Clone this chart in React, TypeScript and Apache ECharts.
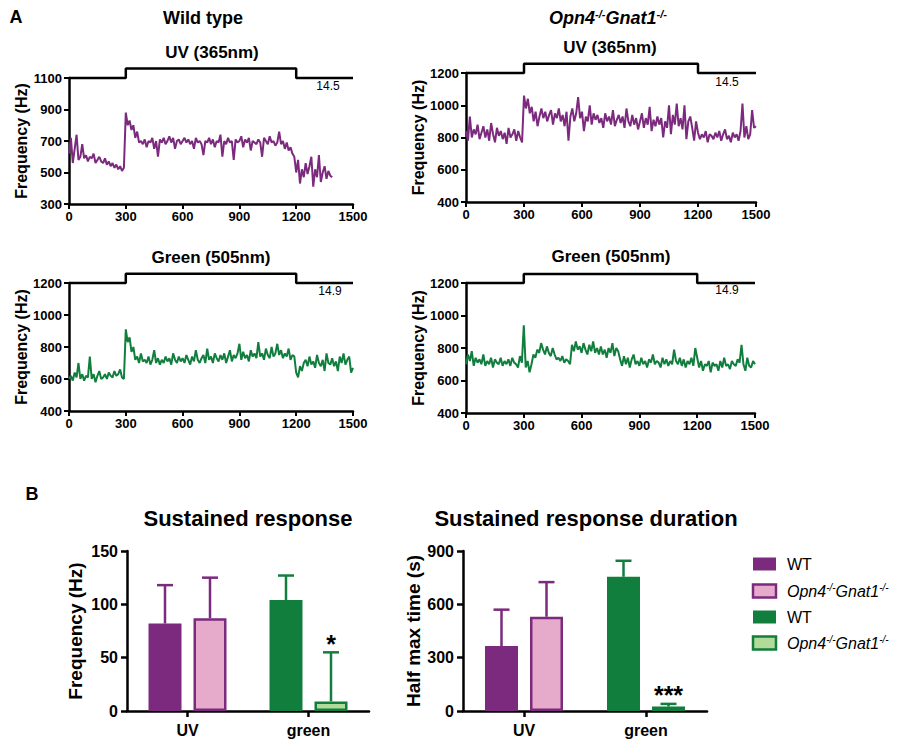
import React, { useEffect, useRef } from 'react';
import * as echarts from 'echarts';

// ---------- DATA ----------
const SAMPLE_STEP_S = 10; // one reading every 10 s

// Panel A traces (Hz), one value per sample
const wtUvHz = [
  620, 720, 560, 650, 740, 580, 600, 680, 590, 610,
  570, 600, 590, 620, 560, 580, 600, 570, 560, 590,
  550, 570, 540, 560, 530, 550, 520, 540, 510, 530,
  880, 800, 830, 770, 800, 720, 760, 690, 700, 680,
  710, 660, 700, 690, 720, 650, 700, 600, 710, 690,
  720, 680, 700, 730, 690, 720, 650, 700, 710, 680,
  700, 720, 690, 710, 680, 700, 650, 720, 690, 700,
  680, 610, 700, 690, 720, 680, 710, 660, 700, 690,
  740, 600, 700, 680, 720, 690, 700, 580, 710, 690,
  700, 730, 660, 710, 690, 720, 640, 700, 690, 680,
  710, 690, 600, 720, 700, 680, 730, 690, 700, 670,
  690, 760, 680, 700, 650, 690, 640, 660, 620, 600,
  500, 580, 430, 520, 470, 560, 490, 540, 600, 410,
  520, 470, 610, 440, 500, 540, 460, 510, 480, 470,
];
const koUvHz = [
  840, 780, 930, 800, 850, 820, 880, 790, 830, 870,
  800, 850, 780, 890, 820, 770, 860, 810, 840, 790,
  830, 760, 860, 800, 820, 850, 780, 840, 800, 770,
  1060, 980, 1040, 950, 990, 900, 960, 870, 930, 980,
  920, 960, 900, 940, 970, 880, 950, 920, 980, 900,
  940, 870, 960, 780, 930, 980, 900, 950, 1050, 920,
  960, 840, 930, 900, 1000, 880, 950, 910, 940, 890,
  920, 860, 950, 900, 930, 880, 970, 870, 910, 940,
  890, 930, 860, 980, 900, 870, 940, 880, 920, 850,
  900, 950, 860, 920, 880, 990, 840, 910, 870, 930,
  880, 920, 800, 900, 860, 1000, 820, 940, 880, 1010,
  870, 920, 850, 1000, 790, 900, 930, 860, 780, 900,
  830, 790, 820, 800, 840, 770, 820, 810, 790, 830,
  800, 840, 780, 820, 850, 790, 810, 770, 830, 800,
  820, 780, 840, 1010, 800, 870, 790, 820, 970, 860,
  870,
];
const wtGreenHz = [
  600, 620, 590, 640, 610, 700, 600, 630, 590, 620,
  610, 740, 600, 630, 580, 620, 650, 600, 610, 630,
  600, 640, 620, 610, 650, 620, 630, 660, 610, 600,
  910, 830, 860, 770, 800, 720, 740, 700, 760, 710,
  720, 700, 740, 690, 720, 780, 700, 730, 690, 720,
  700, 740, 710, 730, 690, 760, 720, 700, 740, 710,
  730, 700, 750, 720, 690, 740, 710, 780, 720, 700,
  730, 750, 700, 790, 720, 740, 700, 760, 730, 710,
  750, 720, 760, 700, 740, 780, 710, 750, 730, 760,
  820, 720, 770, 730, 750, 710, 780, 740, 760, 730,
  830, 740, 760, 720, 790, 750, 730, 800, 740, 760,
  820, 750, 780, 730, 760, 740, 790, 720, 750, 740,
  640, 610, 680, 650, 700, 720, 680, 740, 690, 710,
  670, 750, 700, 680, 720, 650, 760, 700, 690, 730,
  680, 710, 650, 740, 700, 760, 690, 720, 740, 640,
  670,
];
const koGreenHz = [
  700, 760, 720, 780, 690, 740, 710, 730, 700, 760,
  690, 720, 700, 740, 680, 730, 710, 700, 740, 690,
  720, 700, 730, 690, 740, 710, 700, 680, 750, 710,
  940, 680, 720, 650, 700, 760, 740, 790, 770, 830,
  790, 760, 810, 770, 750, 800, 760, 730, 740, 720,
  750, 710, 730, 720, 700, 820, 780, 840, 790, 810,
  770, 830, 790, 760, 820, 780, 840, 770, 800, 760,
  810, 760, 790, 740, 800, 770, 830, 750, 800, 780,
  730, 690, 750, 700, 740, 680, 730, 760, 700, 720,
  690, 740, 700, 720, 680, 730, 710, 760, 700, 720,
  710, 680, 740, 700, 730, 690, 720, 700, 790, 720,
  700, 740, 690, 730, 680, 720, 700, 740, 690, 800,
  740, 680, 720, 660, 700, 690, 720, 650, 710, 690,
  700, 660, 720, 680, 740, 690, 700, 670, 720, 700,
  690, 730, 710, 820, 700, 660, 740, 690, 680, 720,
  700,
];

// Stimulus bars above the traces
const stimTimes = [0, 300, 300, 1200, 1200, 1500];
const stimWtUv = [1100, 1100, 1160, 1160, 1100, 1100];
const stimKoUv = [1200, 1200, 1258, 1258, 1200, 1200];
const stimWtGreen = [1200, 1200, 1258, 1258, 1200, 1200];
const stimKoGreen = [1200, 1200, 1255, 1255, 1200, 1200];
const uvIntensity = '14.5';
const greenIntensity = '14.9';

// Panel B
const barCategories = ['UV', 'green'];
const sustainedWT = [82, 104];
const sustainedWTErr = [36, 23];
const sustainedKO = [87, 9];
const sustainedKOErr = [38, 46];
const sustainedStars = ['', '*'];
const durationWT = [365, 755];
const durationWTErr = [205, 90];
const durationKO = [530, 25];
const durationKOErr = [195, 15];
const durationStars = ['', '***'];
const legendLabels = ['WT', 'KO', 'WT', 'KO'];

// ---------- STYLE ----------
const FONT = '"Liberation Sans", Arial, sans-serif';
const PURPLE = '#7B2A7D';
const PINK = '#E6ABCB';
const GREEN = '#127E3E';
const LGREEN = '#B2DA98';
const BAR_W = 33;
const BAR_GAP_PX = 12;
const BAR_OFFSET = (BAR_W + BAR_GAP_PX) / 2;

const toSeries = (vals: number[]) => vals.map((v, i) => [i * SAMPLE_STEP_S, v]);
const toStim = (lv: number[]) => stimTimes.map((t, i) => [t, lv[i]]);
const plain = (v: number) => String(v);

const axisLine = { show: true, onZero: false, lineStyle: { color: '#000', width: 2.5 } };

function timeX(gridIndex: number) {
  return {
    type: 'value', gridIndex, min: 0, max: 1500, interval: 300,
    axisLine, axisTick: { show: true, length: 5, lineStyle: { color: '#000', width: 2 } },
    axisLabel: { margin: 6, color: '#000', fontSize: 13, fontWeight: 'bold', fontFamily: FONT, formatter: plain },
    splitLine: { show: false },
  };
}
function timeY(gridIndex: number, min: number, max: number) {
  return {
    type: 'value', gridIndex, min, max, interval: 200,
    name: 'Frequency (Hz)', nameLocation: 'middle', nameGap: 38, nameRotate: 90,
    nameTextStyle: { color: '#000', fontSize: 16, fontWeight: 'bold', fontFamily: FONT },
    axisLine, axisTick: { show: true, length: 5, lineStyle: { color: '#000', width: 2 } },
    axisLabel: { margin: 7, color: '#000', fontSize: 13, fontWeight: 'bold', fontFamily: FONT, formatter: plain },
    splitLine: { show: false },
  };
}
function barX(gridIndex: number) {
  return {
    type: 'category', gridIndex, data: barCategories,
    axisLine, axisTick: { show: true, alignWithLabel: true, length: 6, lineStyle: { color: '#000', width: 2.5 } },
    axisLabel: { margin: 11, color: '#000', fontSize: 16, fontWeight: 'bold', fontFamily: FONT },
    splitLine: { show: false },
  };
}
function barY(gridIndex: number, max: number, interval: number, name: string, nameGap: number) {
  return {
    type: 'value', gridIndex, min: 0, max, interval,
    name, nameLocation: 'middle', nameGap, nameRotate: 90,
    nameTextStyle: { color: '#000', fontSize: 19, fontWeight: 'bold', fontFamily: FONT },
    axisLine, axisTick: { show: true, length: 6, lineStyle: { color: '#000', width: 2.5 } },
    axisLabel: { margin: 9, color: '#000', fontSize: 16, fontWeight: 'bold', fontFamily: FONT, formatter: plain },
    splitLine: { show: false },
  };
}

function traceSeries(idx: number, vals: number[], color: string) {
  return {
    type: 'line', xAxisIndex: idx, yAxisIndex: idx, data: toSeries(vals),
    showSymbol: false, symbol: 'none', lineStyle: { color, width: 2 }, z: 2,
  };
}
function stimSeries(idx: number, lv: number[]) {
  return {
    type: 'line', xAxisIndex: idx, yAxisIndex: idx, data: toStim(lv), clip: false,
    showSymbol: false, symbol: 'none', lineStyle: { color: '#000', width: 2.5 }, z: 3,
  };
}
function barSeries(idx: number, vals: number[], fills: string[], borders: string[], bw: number) {
  return {
    type: 'bar', xAxisIndex: idx, yAxisIndex: idx, barWidth: BAR_W, barGap: `${(BAR_GAP_PX / BAR_W) * 100}%`,
    data: vals.map((v, i) => ({ value: v, itemStyle: { color: fills[i], borderColor: borders[i], borderWidth: bw } })),
    z: 2,
  };
}
function errSeries(idx: number, slot: number, vals: number[], errs: number[], colors: string[], stars: string[]) {
  return {
    type: 'custom', xAxisIndex: idx, yAxisIndex: idx, z: 3,
    data: vals.map((v, i) => [i, v, errs[i]]),
    encode: { x: 0, y: 1 },
    renderItem: (params: any, api: any) => {
      const cat = api.value(0), v = api.value(1), e = api.value(2);
      const base = api.coord([cat, v]);
      const top = api.coord([cat, v + e]);
      const x = base[0] + (slot === 0 ? -BAR_OFFSET : BAR_OFFSET);
      const color = colors[params.dataIndex];
      const star = stars[params.dataIndex] || '';
      const children: any[] = [
        { type: 'line', shape: { x1: x, y1: base[1], x2: x, y2: top[1] }, style: { stroke: color, lineWidth: 2.5 } },
        { type: 'line', shape: { x1: x - 8, y1: top[1], x2: x + 8, y2: top[1] }, style: { stroke: color, lineWidth: 2.5 } },
      ];
      if (star) {
        children.push({
          type: 'text', x, y: top[1] + 4,
          style: { text: star, fill: '#000', fontSize: 25, fontWeight: 'bold', fontFamily: FONT, align: 'center', verticalAlign: 'bottom' },
        });
      }
      return { type: 'group', children };
    },
  };
}

function txt(x: number, y: number, text: string, size: number, weight = 'bold', align = 'center') {
  return {
    type: 'text', x, y, z: 10,
    style: { text, fill: '#000', fontSize: size, fontWeight: weight, fontFamily: FONT, align, verticalAlign: 'middle' },
  };
}
function koRich(x: number, y: number, size: number, sup: number, weight: string, align = 'center') {
  const base = { fontSize: size, fontWeight: weight, fontStyle: 'italic', fontFamily: FONT, fill: '#000', color: '#000' };
  return {
    type: 'text', x, y, z: 10,
    style: {
      text: '{a|Opn4}{s|-/-}{a|Gnat1}{s|-/-}',
      align, verticalAlign: 'middle', fill: '#000',
      rich: {
        a: { ...base, lineHeight: size + 2 },
        s: { ...base, fontSize: sup, verticalAlign: 'top', lineHeight: sup + 1 },
      },
    },
  };
}

const legendRows = [
  { fill: PURPLE, border: PURPLE, y: 564 },
  { fill: PINK, border: PURPLE, y: 591 },
  { fill: GREEN, border: GREEN, y: 617 },
  { fill: LGREEN, border: GREEN, y: 643 },
];

export default function App() {
  const ref = useRef<HTMLDivElement>(null);
  useEffect(() => {
    if (!ref.current) return;
    const chart = echarts.init(ref.current, undefined, { renderer: 'svg' });
    const legendGraphics: any[] = [];
    legendRows.forEach((r, i) => {
      legendGraphics.push({
        type: 'rect', shape: { x: 753, y: r.y - 6.5, width: 23, height: 13 }, z: 10,
        style: { fill: r.fill, stroke: r.border, lineWidth: r.fill === r.border ? 0 : 2.5 },
      });
      if (legendLabels[i] === 'WT') legendGraphics.push(txt(787, r.y, 'WT', 16, 'normal', 'left'));
      else legendGraphics.push(koRich(787, r.y, 16, 10, 'normal', 'left'));
    });

    const option: any = {
      animation: false,
      backgroundColor: '#fff',
      grid: [
        { left: 69, top: 78, width: 284, height: 126 },
        { left: 466, top: 73, width: 290, height: 129 },
        { left: 69, top: 283, width: 284, height: 128 },
        { left: 466, top: 283, width: 289, height: 130 },
        { left: 127, top: 551, width: 242, height: 160 },
        { left: 463, top: 551, width: 244, height: 160 },
      ],
      xAxis: [timeX(0), timeX(1), timeX(2), timeX(3), barX(4), barX(5)],
      yAxis: [
        timeY(0, 300, 1100), timeY(1, 400, 1200), timeY(2, 400, 1200), timeY(3, 400, 1200),
        barY(4, 150, 50, 'Frequency (Hz)', 42),
        barY(5, 900, 300, 'Half max time (s)', 39),
      ],
      series: [
        traceSeries(0, wtUvHz, PURPLE),
        traceSeries(1, koUvHz, PURPLE),
        traceSeries(2, wtGreenHz, GREEN),
        traceSeries(3, koGreenHz, GREEN),
        stimSeries(0, stimWtUv),
        stimSeries(1, stimKoUv),
        stimSeries(2, stimWtGreen),
        stimSeries(3, stimKoGreen),
        barSeries(4, sustainedWT, [PURPLE, GREEN], [PURPLE, GREEN], 0),
        barSeries(4, sustainedKO, [PINK, LGREEN], [PURPLE, GREEN], 2.5),
        barSeries(5, durationWT, [PURPLE, GREEN], [PURPLE, GREEN], 0),
        barSeries(5, durationKO, [PINK, LGREEN], [PURPLE, GREEN], 2.5),
        errSeries(4, 0, sustainedWT, sustainedWTErr, [PURPLE, GREEN], ['', '']),
        errSeries(4, 1, sustainedKO, sustainedKOErr, [PURPLE, GREEN], sustainedStars),
        errSeries(5, 0, durationWT, durationWTErr, [PURPLE, GREEN], ['', '']),
        errSeries(5, 1, durationKO, durationKOErr, [PURPLE, GREEN], durationStars),
      ],
      graphic: [
        txt(16, 17, 'A', 18, 'bold'),
        txt(32, 494, 'B', 18, 'bold'),
        txt(203, 18, 'Wild type', 18),
        koRich(608, 18, 18, 11, 'bold'),
        txt(212, 52, 'UV (365nm)', 17),
        txt(610, 47, 'UV (365nm)', 17),
        txt(211, 257, 'Green (505nm)', 17),
        txt(611, 256, 'Green (505nm)', 17),
        txt(328, 86, uvIntensity, 12, 'normal'),
        txt(727, 82, uvIntensity, 12, 'normal'),
        txt(330, 291, greenIntensity, 12, 'normal'),
        txt(727, 290, greenIntensity, 12, 'normal'),
        txt(248, 518, 'Sustained response', 22),
        txt(586, 518, 'Sustained response duration', 22),
        ...legendGraphics,
      ],
    };
    chart.setOption(option);
    return () => chart.dispose();
  }, []);
  return <div ref={ref} style={{ position: 'fixed', left: 0, top: 0, width: 901, height: 741 }} />;
}
